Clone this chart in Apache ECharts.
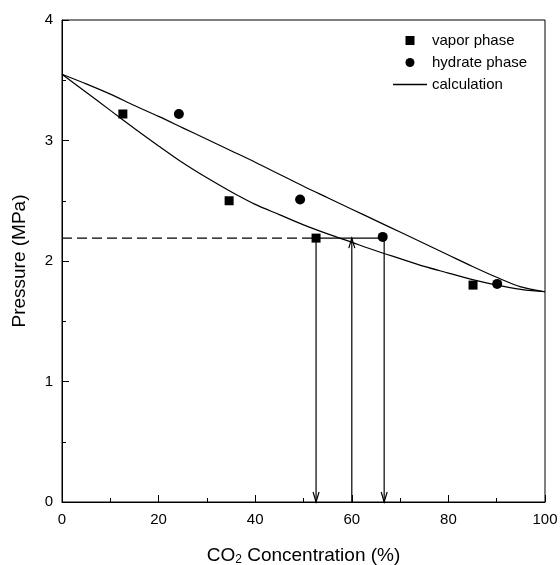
<!DOCTYPE html>
<html>
<head>
<meta charset="utf-8">
<script src="https://cdn.jsdelivr.net/npm/echarts@6/dist/echarts.min.js"></script>
<style>
  html, body { margin: 0; padding: 0; background: #fff; }
  #chart { width: 560px; height: 565px; }
</style>
</head>
<body>
<div id="chart"></div>
<script>
// measured points
var vaporPhase = [[12.6, 3.22], [34.6, 2.50], [52.6, 2.19], [85.1, 1.80]];
var hydratePhase = [[24.2, 3.22], [49.3, 2.51], [66.4, 2.20], [90.1, 1.81]];

// calculated curves
var calcUpper = [[0, 3.55], [5, 3.47], [10, 3.385], [15, 3.29], [20, 3.20], [25, 3.105], [30, 3.01],
    [35, 2.915], [40, 2.82], [45, 2.72], [50, 2.62], [55, 2.525], [60, 2.43], [65, 2.335], [70, 2.24],
    [75, 2.145], [80, 2.05], [85, 1.955], [90, 1.865], [95, 1.785], [100, 1.745]];
var calcLower = [[0, 3.55], [5, 3.40], [10, 3.25], [15, 3.10], [20, 2.955], [25, 2.815], [30, 2.69],
    [35, 2.575], [40, 2.47], [45, 2.385], [50, 2.30], [55, 2.225], [60, 2.155], [65, 2.085], [70, 2.02],
    [75, 1.955], [80, 1.90], [85, 1.845], [90, 1.80], [95, 1.765], [100, 1.745]];

// guide lines: x1, y1, x2, y2, kind (0 solid, 1 dashed, 2 arrow at end)
var guides = [
    [0, 2.19, 52.6, 2.19, 1],
    [52.6, 2.19, 66.7, 2.19, 0],
    [52.6, 2.19, 52.6, 0, 2],
    [60, 0, 60, 2.19, 2],
    [66.7, 2.19, 66.7, 0, 2]
];

var xTicks = {min: 0, max: 100, interval: 20};
var yTicks = {min: 0, max: 4, interval: 1};

var font = 'Liberation Sans, Arial, sans-serif';

var chart = echarts.init(document.getElementById('chart'));

var renderGuide = function (params, api) {
    var p1 = api.coord([api.value(0), api.value(1)]);
    var p2 = api.coord([api.value(2), api.value(3)]);
    var kind = api.value(4);
    var style = {stroke: '#000', lineWidth: 1.2, fill: null};
    if (kind === 1) {
        style.lineDash = [10, 5];
    }
    var children = [{
        type: 'line',
        shape: {x1: p1[0], y1: p1[1], x2: p2[0], y2: p2[1]},
        style: style
    }];
    if (kind === 2) {
        var dx = p2[0] - p1[0], dy = p2[1] - p1[1];
        var len = Math.sqrt(dx * dx + dy * dy);
        dx /= len; dy /= len;
        var bx = p2[0] - dx * 10, by = p2[1] - dy * 10;
        children.push({
            type: 'polyline',
            shape: {points: [[bx - dy * 3, by + dx * 3], [p2[0], p2[1]], [bx + dy * 3, by - dx * 3]]},
            style: {stroke: '#000', lineWidth: 1.2, fill: null}
        });
    }
    return {type: 'group', children: children};
};

var option = {
    animation: false,
    backgroundColor: '#fff',
    textStyle: {fontFamily: font, color: '#000'},
    grid: {
        left: 62, right: 15, top: 20, bottom: 63,
        outerBoundsMode: 'none',
        show: true, borderColor: '#000', borderWidth: 1
    },
    legend: {
        orient: 'vertical',
        left: 388, top: 28,
        itemWidth: 34, itemHeight: 9, itemGap: 7,
        symbolKeepAspect: true,
        textStyle: {fontFamily: font, fontSize: 15, color: '#000'},
        data: [
            {name: 'vapor phase', icon: 'path://M0,0H10V10H0Z'},
            {name: 'hydrate phase', icon: 'circle'},
            {name: 'calculation', icon: 'path://M0,0H34V1.3H0Z'}
        ]
    },
    xAxis: {
        type: 'value',
        min: xTicks.min, max: xTicks.max, interval: xTicks.interval,
        name: '{a|CO}{s|2}{a| Concentration (%)}',
        nameLocation: 'middle', nameGap: 43,
        nameTextStyle: {
            rich: {
                a: {fontFamily: font, fontSize: 19, color: '#000'},
                s: {fontFamily: font, fontSize: 12, color: '#000', verticalAlign: 'bottom', padding: [9, 0, 0, 0]}
            }
        },
        axisLine: {lineStyle: {color: '#000', width: 1}},
        axisTick: {inside: true, length: 7, lineStyle: {color: '#000'}},
        minorTick: {show: true, splitNumber: 2, length: 4, lineStyle: {color: '#000'}},
        axisLabel: {fontFamily: font, fontSize: 15, color: '#000', margin: 10},
        splitLine: {show: false}
    },
    yAxis: {
        type: 'value',
        min: yTicks.min, max: yTicks.max, interval: yTicks.interval,
        name: 'Pressure (MPa)',
        nameLocation: 'middle', nameGap: 33,
        nameTextStyle: {fontFamily: font, fontSize: 19, color: '#000'},
        axisLine: {show: true, lineStyle: {color: '#000', width: 1}},
        axisTick: {show: true, inside: true, length: 7, lineStyle: {color: '#000'}},
        minorTick: {show: true, splitNumber: 2, length: 4, lineStyle: {color: '#000'}},
        axisLabel: {fontFamily: font, fontSize: 15, color: '#000', margin: 9},
        splitLine: {show: false}
    },
    series: [
        {
            name: 'guides',
            type: 'custom',
            renderItem: renderGuide,
            data: guides,
            z: 1,
            silent: true
        },
        {
            name: 'calculation',
            type: 'line',
            smooth: 0.3,
            symbol: 'none',
            data: calcUpper,
            lineStyle: {color: '#000', width: 1.2},
            itemStyle: {color: '#000'},
            z: 2
        },
        {
            name: 'calculation',
            type: 'line',
            smooth: 0.3,
            symbol: 'none',
            data: calcLower,
            lineStyle: {color: '#000', width: 1.2},
            itemStyle: {color: '#000'},
            z: 2
        },
        {
            name: 'vapor phase',
            type: 'scatter',
            symbol: 'rect',
            symbolSize: 9,
            data: vaporPhase,
            itemStyle: {color: '#000', opacity: 1},
            z: 3
        },
        {
            name: 'hydrate phase',
            type: 'scatter',
            symbol: 'circle',
            symbolSize: 10,
            data: hydratePhase,
            itemStyle: {color: '#000', opacity: 1},
            z: 3
        }
    ]
};

chart.setOption(option);
</script>
</body>
</html>
